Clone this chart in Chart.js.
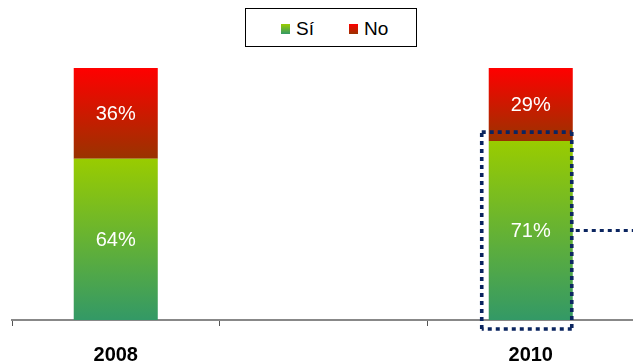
<!DOCTYPE html>
<html>
<head>
<meta charset="utf-8">
<script src="https://cdn.jsdelivr.net/npm/chart.js@4.4.1/dist/chart.umd.min.js"></script>
<style>
  html, body { margin: 0; padding: 0; background: #fff; overflow: hidden; width: 633px; height: 364px; }
  #wrap { position: relative; width: 633px; height: 364px; overflow: hidden; }
  #c { position: absolute; left: 0; top: 0; }
  #legend { position: absolute; left: 245px; top: 8px; width: 170px; height: 37px; border: 1px solid #000; background: #fff;
            font-family: "Liberation Sans", Arial, sans-serif; font-size: 19px; color: #000; }
  .sw { position: absolute; width: 9px; height: 10px; top: 15px; }
  .lt { position: absolute; top: 10px; line-height: 19px; white-space: nowrap; }
</style>
</head>
<body>
<div id="wrap">
  <canvas id="c" width="640" height="364"></canvas>
  <div id="legend"></div>
</div>
<script>
const categories = ['2008', '', '2010'];
const siValues = [64, null, 71];
const noValues = [36, null, 29];
const seriesNames = ['Sí', 'No'];
const highlightCategory = '2010';

const siColors = ['#99CC00', '#339966'];
const noColors = ['#FF0000', '#993300'];

// HTML legend
(function () {
  const lg = document.getElementById('legend');
  const items = [
    { name: seriesNames[0], c: siColors, sx: 35, tx: 50 },
    { name: seriesNames[1], c: noColors, sx: 103, tx: 118 }
  ];
  items.forEach(it => {
    const s = document.createElement('div');
    s.className = 'sw';
    s.style.left = it.sx + 'px';
    s.style.background = 'linear-gradient(to bottom,' + it.c[0] + ',' + it.c[1] + ')';
    lg.appendChild(s);
    const t = document.createElement('div');
    t.className = 'lt';
    t.style.left = it.tx + 'px';
    t.textContent = it.name;
    lg.appendChild(t);
  });
})();

function segGradient(ctx, colors) {
  const chart = ctx.chart;
  if (!chart.chartArea || !chart.scales.y) return colors[0];
  const i = ctx.dataIndex, di = ctx.datasetIndex;
  const ds = chart.data.datasets;
  let start = 0;
  for (let k = 0; k < di; k++) start += ds[k].data[i] || 0;
  const v = ds[di].data[i] || 0;
  const y = chart.scales.y;
  const yTop = y.getPixelForValue(start + v);
  const yBot = y.getPixelForValue(start);
  if (!isFinite(yTop) || !isFinite(yBot) || yTop === yBot) return colors[0];
  const g = chart.ctx.createLinearGradient(0, yTop, 0, yBot);
  g.addColorStop(0, colors[0]);
  g.addColorStop(1, colors[1]);
  return g;
}

const labelPlugin = {
  id: 'segLabels',
  afterDatasetsDraw(chart) {
    const ctx = chart.ctx;
    ctx.save();
    ctx.font = '20px "Liberation Sans", Arial, sans-serif';
    ctx.fillStyle = '#ffffff';
    ctx.textAlign = 'center';
    ctx.textBaseline = 'middle';
    chart.data.datasets.forEach((ds, di) => {
      const meta = chart.getDatasetMeta(di);
      meta.data.forEach((el, j) => {
        const v = ds.data[j];
        if (v == null) return;
        const p = el.getProps(['x', 'y', 'base'], true);
        ctx.fillText(v + '%', p.x, (p.y + p.base) / 2 + 1);
      });
    });
    ctx.restore();
  },
  afterDraw(chart) {
    const hi = chart.data.labels.indexOf(highlightCategory);
    if (hi < 0) return;
    const el = chart.getDatasetMeta(0).data[hi];
    const p = el.getProps(['x', 'y', 'base', 'width'], true);
    const left = p.x - p.width / 2 - 7;
    const right = p.x + p.width / 2 - 1;
    const top = p.y - 9;
    const bottom = p.base + 9;
    const mid = (p.y + p.base) / 2;
    const ctx = chart.ctx;
    ctx.save();
    ctx.strokeStyle = '#0b2560';
    ctx.lineWidth = 3.6;
    ctx.setLineDash([4, 4]);
    ctx.lineCap = 'butt';
    ctx.beginPath();
    ctx.moveTo(left, top); ctx.lineTo(right, top);
    ctx.moveTo(right, top); ctx.lineTo(right, bottom);
    ctx.moveTo(right, bottom); ctx.lineTo(left, bottom);
    ctx.moveTo(left, bottom); ctx.lineTo(left, top);
    ctx.stroke();
    ctx.beginPath();
    ctx.lineWidth = 3;
    ctx.moveTo(right + 4, mid); ctx.lineTo(chart.width, mid);
    ctx.stroke();
    ctx.restore();
  }
};

new Chart(document.getElementById('c'), {
  type: 'bar',
  data: {
    labels: categories,
    datasets: [
      { label: seriesNames[0], data: siValues, backgroundColor: c => segGradient(c, siColors), borderWidth: 0 },
      { label: seriesNames[1], data: noValues, backgroundColor: c => segGradient(c, noColors), borderWidth: 0 }
    ]
  },
  options: {
    responsive: false,
    animation: false,
    devicePixelRatio: 1,
    layout: { padding: { left: 12, right: 5.5, top: 68, bottom: -20 } },
    plugins: { legend: { display: false }, tooltip: { enabled: false } },
    datasets: { bar: { barPercentage: 0.405, categoryPercentage: 1 } },
    scales: {
      x: {
        stacked: true,
        offset: true,
        grid: { display: true, drawOnChartArea: false, drawTicks: true, tickLength: 6, color: '#555', offset: true },
        border: { display: true, color: '#888', width: 2 },
        ticks: { color: '#000', padding: 19, font: { family: '"Liberation Sans", Arial, sans-serif', size: 20, weight: 'bold', lineHeight: 1 } }
      },
      y: { stacked: true, display: false, min: 0, max: 100 }
    }
  },
  plugins: [labelPlugin]
});
</script>
</body>
</html>
